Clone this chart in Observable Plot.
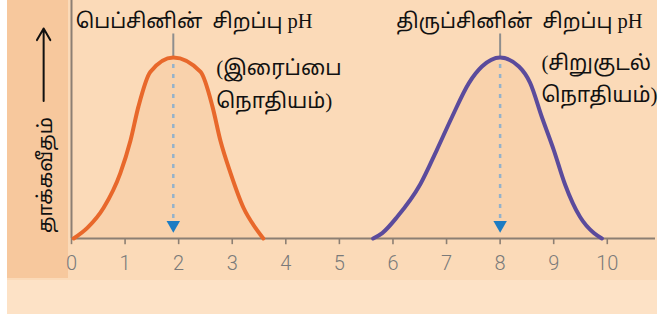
<!DOCTYPE html>
<html>
<head>
<meta charset="utf-8">
<script src="https://cdn.jsdelivr.net/npm/d3@7"></script>
<script src="https://cdn.jsdelivr.net/npm/@observablehq/plot@0.6"></script>
<style>
  html, body { margin: 0; padding: 0; background: #fff; }
  #chart { width: 663px; height: 320px; }
  #chart svg {
    display: block;
    background:
      linear-gradient(to right, #fff 0 7px, transparent 7px 657px, #fff 657px),
      linear-gradient(to bottom, transparent 0 314px, #fff 314px),
      linear-gradient(to bottom, #f7c89d 0 278px, transparent 278px) 0 0 / 68px 100% no-repeat,
      linear-gradient(to bottom, #fbdab8 0 280px, #fde2c6 280px);
  }
</style>
</head>
<body>
<div id="chart"></div>
<script>
// Enzyme activity against pH: pepsin (stomach) and trypsin (small intestine)
const pepsinPH   = [0.04, 0.30, 0.60, 0.91, 1.10, 1.25, 1.47, 1.90, 2.41, 2.63, 2.78, 2.97, 3.21, 3.43, 3.58];
const pepsinRate = [0.00, 0.06, 0.17, 0.36, 0.54, 0.73, 0.92, 1.00, 0.92, 0.73, 0.54, 0.36, 0.17, 0.06, 0.00];

const trypsinPH   = [5.63, 5.80, 6.08, 6.51, 6.82, 7.10, 7.42, 7.66, 8.00, 8.35, 8.56, 8.78, 9.00, 9.21, 9.49, 9.75, 9.90];
const trypsinRate = [0.00, 0.03, 0.12, 0.30, 0.49, 0.67, 0.86, 0.95, 1.00, 0.95, 0.86, 0.67, 0.49, 0.30, 0.12, 0.03, 0.00];

// optimum pH of each enzyme
const optimumPH = [1.9, 8];

const xTicks = [0, 1, 2, 3, 4, 5, 6, 7, 8, 9, 10];

const pepsinTitle   = "பெப்சினின்  சிறப்பு pH";
const pepsinNote    = ["(இரைப்பை", "நொதியம்)"];
const trypsinTitle  = "திருப்சினின்  சிறப்பு pH";
const trypsinNote   = ["(சிறுகுடல்", "நொதியம்)"];
const yLabel        = "தாக்கவீதம்";

const pepsin  = pepsinPH.map((p, i) => ({ph: p, rate: pepsinRate[i]}));
const trypsin = trypsinPH.map((p, i) => ({ph: p, rate: trypsinRate[i]}));

const textFont = "'Liberation Serif', 'Noto Sans Tamil', 'Noto Serif Tamil', serif";
const axisColor = "#8c7f73";

const chart = Plot.plot({
  width: 663,
  height: 320,
  marginLeft: 71,
  marginRight: 8,
  marginTop: 0,
  marginBottom: 82,
  style: {fontFamily: "Roboto, 'Open Sans', sans-serif", overflow: "visible"},
  x: {domain: [0, 10.9], axis: null},
  y: {domain: [0, 1.315], axis: null},
  marks: [
    // light shading under each curve
    Plot.areaY(pepsin, {x: "ph", y: "rate", fill: "#f6b27a", fillOpacity: 0.18, curve: "monotone-x"}),
    Plot.areaY(trypsin, {x: "ph", y: "rate", fill: "#f6b27a", fillOpacity: 0.18, curve: "monotone-x"}),

    // axes: pH ticks and labels below the baseline
    Plot.ruleX(xTicks, {y1: 0, y2: -0.034, stroke: axisColor, strokeWidth: 1.6}),
    Plot.text(xTicks, {x: d => d, y: 0, dy: 25, fontSize: 20, fontWeight: 300, fill: "#7a7a7a"}),
    Plot.ruleY([0], {stroke: axisColor, strokeWidth: 2}),
    Plot.ruleX([0], {y1: 0, y2: 1.315, stroke: axisColor, strokeWidth: 2}),

    // optimum markers: grey stem above the peak, dotted drop line, arrowhead
    Plot.ruleX(optimumPH, {y1: 1.0, y2: 1.13, stroke: "#8e8e8e", strokeWidth: 2}),
    Plot.ruleX(optimumPH, {y1: 0.11, y2: 0.99, stroke: "#94b2cb", strokeWidth: 2.5, strokeDasharray: "4,6"}),
    Plot.dot(optimumPH, {x: d => d, y: 0.075, symbol: "triangle", rotate: 180, r: 5, fill: "#1d7cc3", stroke: "none"}),

    // activity curves
    Plot.line(pepsin, {x: "ph", y: "rate", stroke: "#e8682b", strokeWidth: 4, curve: "monotone-x"}),
    Plot.line(trypsin, {x: "ph", y: "rate", stroke: "#5b4b9c", strokeWidth: 4, curve: "monotone-x"}),

    // annotations
    Plot.text([pepsinTitle], {x: 2.29, y: 1.2, fontSize: 20.5, fontFamily: textFont, fill: "#111"}),
    Plot.text([trypsinTitle], {x: 8.36, y: 1.2, fontSize: 20.5, fontFamily: textFont, fill: "#111"}),
    Plot.text(pepsinNote, {x: 2.70, y: [0.94, 0.76], textAnchor: "start", fontSize: 21, fontFamily: textFont, fill: "#111"}),
    Plot.text(trypsinNote, {x: 8.77, y: [0.97, 0.79], textAnchor: "start", fontSize: 21, fontFamily: textFont, fill: "#111"}),

    // y label with upward arrow
    Plot.text([yLabel], {x: -0.49, y: 0.35, rotate: -90, fontSize: 20, fontFamily: textFont, fill: "#111"}),
    Plot.arrow([0], {x1: -0.52, x2: -0.52, y1: 0.76, y2: 1.16, stroke: "#111", strokeWidth: 2, headLength: 10})
  ]
});

document.getElementById("chart").append(chart);
</script>
</body>
</html>
